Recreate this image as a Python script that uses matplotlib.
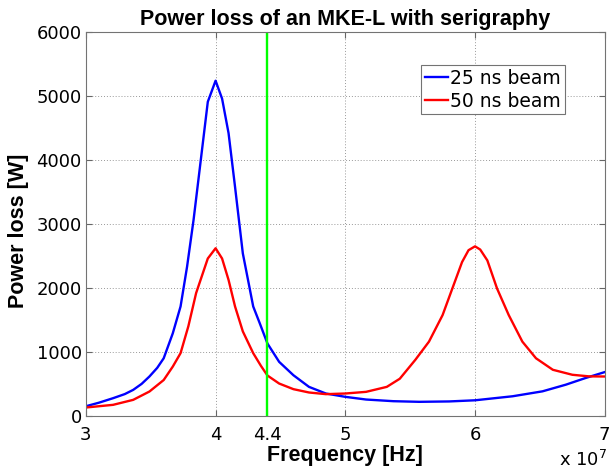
import matplotlib
matplotlib.use("Agg")
import matplotlib.pyplot as plt

plt.rcParams['font.family'] = ['DejaVu Sans']

# Frequency in units of 1e7 Hz
freq_25 = [3.00, 3.10, 3.21, 3.30, 3.365, 3.43, 3.49, 3.55, 3.60, 3.67, 3.73, 3.78,
           3.83, 3.88, 3.94, 4.00, 4.05, 4.10, 4.15, 4.21, 4.29, 4.34, 4.40, 4.49,
           4.60, 4.72, 4.85, 5.00, 5.16, 5.37, 5.57, 5.80, 6.00, 6.29, 6.52, 6.70,
           6.85, 7.00]
power_25 = [150, 205, 276, 340, 406, 500, 615, 750, 900, 1290, 1710, 2330,
            3060, 3900, 4910, 5240, 4960, 4420, 3580, 2540, 1710, 1450, 1130, 844,
            635, 453, 349, 297, 255, 229, 219, 225, 243, 306, 383, 487,
            590, 684]

freq_50 = [3.00, 3.21, 3.365, 3.49, 3.60, 3.67, 3.73, 3.79, 3.85, 3.94, 4.00, 4.05,
           4.10, 4.15, 4.21, 4.29, 4.35, 4.40, 4.49, 4.60, 4.72, 4.85, 5.00, 5.16,
           5.32, 5.42, 5.54, 5.645, 5.75, 5.825, 5.90, 5.95, 6.00, 6.04, 6.095,
           6.17, 6.26, 6.365, 6.47, 6.60, 6.75, 6.88, 7.00]
power_50 = [130, 172, 250, 380, 560, 770, 980, 1400, 1920, 2460, 2620, 2460,
            2125, 1710, 1320, 980, 780, 630, 505, 417, 365, 339, 349, 375,
            453, 580, 876, 1160, 1575, 1990, 2404, 2590, 2650, 2600, 2430,
            1990, 1575, 1160, 900, 720, 642, 617, 615]

marker_freq = 4.4
xtick_vals = [3, 4, 4.4, 5, 6, 7]
xtick_labels = ['3', '4', '4.4', '5', '6', '7']
ytick_vals = [0, 1000, 2000, 3000, 4000, 5000, 6000]
series_labels = ['25 ns beam', '50 ns beam']

bold_font = ['Liberation Sans', 'DejaVu Sans']

fig = plt.figure(figsize=(6.09, 4.72), dpi=100)
ax = fig.add_axes([0.141, 0.119, 0.852, 0.813])

scale = 1e7
ax.plot([f * scale for f in freq_25], power_25, color=(0, 0, 1), lw=1.7,
        label=series_labels[0])
ax.plot([f * scale for f in freq_50], power_50, color=(1, 0, 0), lw=1.7,
        label=series_labels[1])
ax.axvline(marker_freq * scale, color=(0, 1, 0), lw=1.7)

ax.set_xlim(3e7, 7e7)
ax.set_ylim(0, 6000)
ax.set_xticks([v * scale for v in xtick_vals])
ax.set_xticklabels(xtick_labels)
ax.set_yticks(ytick_vals)
ax.set_yticklabels([str(v) for v in ytick_vals])

ax.grid(True, linestyle=(0, (1, 2)), color='0.6', lw=0.7)
ax.tick_params(direction='in', top=True, right=True, labelsize=13,
               length=4, color='0.4')
ax.tick_params(axis='x', pad=7)
ax.tick_params(axis='y', pad=3)
for s in ax.spines.values():
    s.set_color('0.45')
    s.set_linewidth(0.8)

ax.set_title('Power loss of an MKE-L with serigraphy', fontsize=15.5,
             fontweight='bold', family=bold_font, pad=5)
ax.set_xlabel('Frequency [Hz]', fontsize=15.5, fontweight='bold', family=bold_font)
ax.set_ylabel('Power loss [W]', fontsize=15.5, fontweight='bold', family=bold_font)
ax.xaxis.set_label_coords(0.5, -0.076)
ax.yaxis.set_label_coords(-0.11, 0.482)

fig.text(0.918, 0.005, r'x 10$^7$', fontsize=13, ha='left', va='bottom')

leg = ax.legend(loc='upper right', bbox_to_anchor=(0.923, 0.914), fontsize=13.5,
                frameon=True, fancybox=False, edgecolor='0.45', framealpha=1,
                handlelength=1.25, handletextpad=0.1, borderpad=0.2,
                labelspacing=0.2, borderaxespad=0)
leg.get_frame().set_linewidth(0.8)

fig.savefig('out.png', dpi=100)
